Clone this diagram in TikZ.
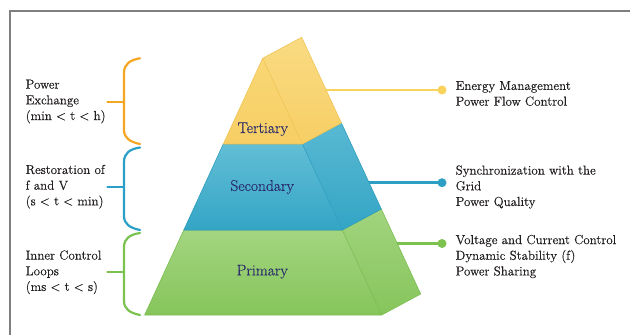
\documentclass[tikz,border=0pt]{standalone}
\usepackage{fontspec}
\setmainfont{Latin Modern Roman}[FakeBold=0.35]
\begin{document}
\begin{tikzpicture}[x=1pt,y=-1pt,
  sidetext/.style={anchor=west,align=left,inner sep=0pt,text=txtcol,font=\fontsize{13}{15.7}\selectfont},
  lvl/.style={inner sep=0pt,text=navy,font=\fontsize{15.5}{18}\selectfont},
  facepath/.style={line width=0.6pt,line join=round},
  brc/.style={line width=2.2pt,line cap=round,line join=round},
  conn/.style={line width=2.6pt},
  dotnode/.style={circle,inner sep=0pt,minimum size=9pt}
]
\definecolor{txtcol}{HTML}{231F20}
\definecolor{navy}{HTML}{2A2C6A}
\definecolor{framecol}{HTML}{7F7F7F}
\definecolor{ylwA}{HTML}{F9D774}
\definecolor{ylwB}{HTML}{F7CE65}
\definecolor{ylwE}{HTML}{F0C455}
\definecolor{bluA}{HTML}{62BED5}
\definecolor{bluB}{HTML}{34A5C6}
\definecolor{bluE}{HTML}{2E9DC0}
\definecolor{grnA}{HTML}{A3D580}
\definecolor{grnB}{HTML}{86C55B}
\definecolor{grnE}{HTML}{7BBE50}
\definecolor{orng}{HTML}{F5A623}
\definecolor{bbrc}{HTML}{2A9FC8}
\definecolor{gbrc}{HTML}{7CC24F}
\definecolor{ycon}{HTML}{F9D25C}
\definecolor{bcon}{HTML}{2E9FC4}
\definecolor{gcon}{HTML}{7CC24F}
\useasboundingbox (0,0) rectangle (630,335);
\fill[white] (0,0) rectangle (630,335);
% frame
\draw[framecol,line width=2pt] (9.5,335) -- (9.5,11) -- (630,11);
% pyramid corners
\coordinate (A) at (262.7,58.3);
\coordinate (B) at (301.7,37.3);
\coordinate (T1) at (223.3,144);
\coordinate (T2) at (302.4,144);
\coordinate (T3) at (341.4,123);
\coordinate (S1) at (183.8,230);
\coordinate (S2) at (342.3,230);
\coordinate (S3) at (381.3,209);
\coordinate (P1) at (144.6,315);
\coordinate (P2) at (381.7,315);
\coordinate (P3) at (420.7,294);
% primary
\shade[top color=grnA,bottom color=grnB] (S1) -- (S2) -- (P2) -- (P1) -- cycle;
\shade[top color=grnA!95!grnB,bottom color=grnB] (S2) -- (S3) -- (P3) -- (P2) -- cycle;
\draw[grnE,facepath] (S1) -- (S2) -- (S3) -- (P3) -- (P2) -- (P1) -- cycle (S2) -- (P2);
% secondary
\shade[top color=bluA,bottom color=bluB] (T1) -- (T2) -- (S2) -- (S1) -- cycle;
\shade[top color=bluA!80!bluB,bottom color=bluB] (T2) -- (T3) -- (S3) -- (S2) -- cycle;
\draw[bluE,facepath] (T1) -- (T2) -- (T3) -- (S3) -- (S2) -- (S1) -- cycle (T2) -- (S2);
% tertiary
\shade[top color=ylwA,bottom color=ylwB] (A) -- (T2) -- (T1) -- cycle;
\shade[top color=ylwA!90!white,bottom color=ylwB] (A) -- (B) -- (T3) -- (T2) -- cycle;
\draw[ylwE,facepath] (A) -- (B) -- (T3) -- (T2) -- (T1) -- cycle (A) -- (T2);
% level labels
\node[lvl] (tert) at (262.8,129.3) {Tertiary};
\node[lvl] (seco) at (262.2,187) {Secondary};
\node[lvl] (prim) at (262.3,271.7) {Primary};
% right connectors
\coordinate (ty) at (326.2,90);
\coordinate (sy) at (368.5,182.7);
\coordinate (py) at (396.7,243.5);
\node[dotnode,fill=ycon] (td) at (442,90) {};
\node[dotnode,fill=bcon] (sd) at (442,182.7) {};
\node[dotnode,fill=gcon] (pd) at (442,243.5) {};
\draw[ycon,conn] (ty) -- (td.center);
\draw[bcon,conn] (sy) -- (sd.center);
\draw[gcon,conn] (py) -- (pd.center);
% right texts
\node[sidetext] (tr) at (455.5,93.5) {Energy Management\\Power Flow Control};
\node[sidetext] (sr) at (455.5,187) {Synchronization with the\\Grid\\Power Quality};
\node[sidetext] (pr) at (455.5,256.5) {Voltage and Current Control\\Dynamic Stability (f)\\Power Sharing};
% left braces
\draw[orng,brc] (140,58.3) .. controls (130,60) and (124,64) .. (124,73) -- (124,130) .. controls (124,138) and (130,142) .. (140,144);
\draw[orng,brc] (107.5,101.7) -- (124,101.7);
\draw[bbrc,brc] (140,147.5) .. controls (130,149) and (124,153) .. (124,162) -- (124,216) .. controls (124,224) and (130,228) .. (140,230);
\draw[bbrc,brc] (107.5,186.7) -- (124,186.7);
\draw[gbrc,brc] (140,233) .. controls (130,234.5) and (124,238.5) .. (124,247) -- (124,301) .. controls (124,309) and (130,313) .. (140,315);
\draw[gbrc,brc] (107.5,272) -- (124,272);
% left texts
\node[sidetext] (tl) at (25.5,101.5) {Power\\Exchange\\(min < t < h)};
\node[sidetext] (sl) at (25.5,186.7) {Restoration of\\f and V\\(s < t < min)};
\node[sidetext] (pl) at (25.5,272.3) {Inner Control\\Loops\\(ms < t < s)};
\end{tikzpicture}
\end{document}
